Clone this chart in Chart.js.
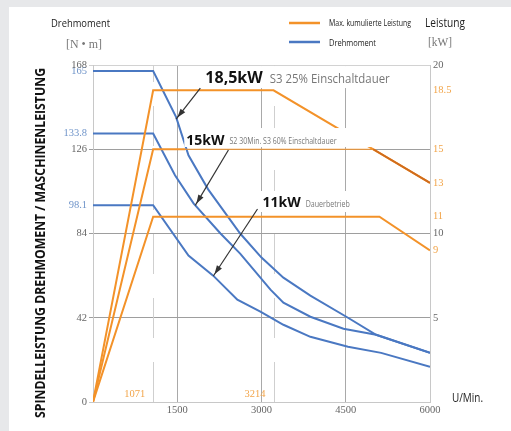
<!DOCTYPE html>
<html>
<head>
<meta charset="utf-8">
<script src="https://cdn.jsdelivr.net/npm/chart.js@4/dist/chart.umd.min.js"></script>
<style>
  html, body { margin: 0; padding: 0; background: #e7e8ea; }
  #panel { position: absolute; left: 9px; top: 7px; width: 502px; height: 424px; background: #fff; }
  #c { position: absolute; left: 0; top: 0; }
</style>
</head>
<body>
<div id="panel"></div>
<canvas id="c" width="511" height="431"></canvas>
<script>
// ---- axis ticks ----
const speedTicks  = [1500, 3000, 4500, 6000];
const torqueTicks = [0, 42, 84, 98.1, 126, 133.8, 165, 168];
const torqueRated = [98.1, 133.8, 165];
const powerTicks  = [5, 9, 10, 11, 13, 15, 18.5, 20];
const powerScale  = [5, 10, 20];
const cornerSpeeds = [1071, 3214];

// ---- power curves (kW) ----
const speedP185 = [0, 1071, 3214, 6000];
const powerP185 = [0, 18.5, 18.5, 13];
const speedP15  = [0, 1071, 1640, 4990, 6000];
const powerP15  = [0, 15, 15, 15, 13];
const speedP11  = [0, 1071, 5100, 6000];
const powerP11  = [0, 11, 11, 9];

// ---- torque curves (N·m) ----
const speedT165  = [0, 1071, 1480, 1700, 2050, 2620, 3000, 3390, 3870, 4540, 5040, 6000];
const torqueT165 = [165, 165, 142, 123, 106, 84, 72, 62, 53, 42, 33.5, 24.5];
const speedT134  = [0, 1071, 1460, 1790, 2270, 2620, 3160, 3390, 3870, 4460, 5040, 6000];
const torqueT134 = [133.8, 133.8, 113, 99, 84, 74, 56, 49.5, 42.5, 36.5, 33.5, 24.5];
const speedT98   = [0, 1071, 1700, 2140, 2570, 2980, 3390, 3870, 4540, 5130, 6000];
const torqueT98  = [98.1, 98.1, 73, 63, 51, 45, 38.5, 32.5, 27.5, 24.5, 17.5];

const ORANGE = '#f39229', ORANGE_DARK = '#d06c1c', BLUE = '#4a78c2';
const BLUE_TXT = '#6f94c9', ORANGE_TXT = '#f2a54a', GRAY_TXT = '#666';
const SERIF = '"Liberation Serif", "DejaVu Serif", serif';
const SANS = '"Open Sans", "Liberation Sans", sans-serif';

const pts = (xs, ys) => xs.map((x, i) => ({ x, y: ys[i] }));

// operating-mode captions, anchored in data space (rpm, N·m)
const captions = [
  { rpm: 2000, nm: 161.5, big: '18,5kW', bigSize: 16, small: 'S3 25% Einschaltdauer', smallSize: 12.5, smallW: 120, gap: 7,
    box: { l: 5, r: 4, t: 12, b: 10 } },
  { rpm: 1661, nm: 130.1, big: '15kW', bigSize: 14, small: 'S2 30Min. S3 60% Einschaltdauer', smallSize: 8.5, smallW: 107, gap: 5,
    box: { l: 2, r: 37, t: 13, b: 6 } },
  { rpm: 3018, nm: 99.2, big: '11kW', bigSize: 14, small: 'Dauerbetrieb', smallSize: 9.5, smallW: 44, gap: 5,
    box: { l: 4, r: 5, t: 12, b: 9 } }
];
const arrows = [
  { from: [1911, 156.5], to: [1480, 141] },
  { from: [2411, 125.6], to: [1821, 98] },
  { from: [2929, 96.2],  to: [2143, 62.8] }
];

const annotations = {
  id: 'annotations',
  beforeDatasetsDraw(chart) {
    const { ctx, chartArea: a, scales: { x } } = chart;
    ctx.save();
    ctx.strokeStyle = '#cfcfcf';
    ctx.lineWidth = 1;
    ctx.setLineDash([40, 24]);
    cornerSpeeds.forEach(s => {
      const px = Math.round(x.getPixelForValue(s)) + 0.5;
      ctx.beginPath();
      ctx.moveTo(px, a.bottom);
      ctx.lineTo(px, a.top);
      ctx.stroke();
    });
    ctx.restore();
  },
  afterDatasetsDraw(chart) {
    const { ctx, scales: { x, y } } = chart;
    ctx.save();
    // caption boxes and text
    captions.forEach(c => {
      const px = x.getPixelForValue(c.rpm), py = y.getPixelForValue(c.nm);
      ctx.font = `bold ${c.bigSize}px ${SANS}`;
      const bw = ctx.measureText(c.big).width;
      const sx = px + bw + c.gap;
      ctx.font = `${c.smallSize}px ${SANS}`;
      const sw = Math.min(ctx.measureText(c.small).width, c.smallW);
      ctx.fillStyle = '#fff';
      ctx.fillRect(px - c.box.l, py - c.box.t, (sx + sw + c.box.r) - (px - c.box.l), c.box.t + c.box.b);
      ctx.textBaseline = 'middle';
      ctx.textAlign = 'left';
      ctx.fillStyle = '#111';
      ctx.font = `bold ${c.bigSize}px ${SANS}`;
      ctx.fillText(c.big, px, py);
      ctx.fillStyle = '#777';
      ctx.font = `${c.smallSize}px ${SANS}`;
      ctx.fillText(c.small, sx, py + 1, c.smallW);
    });
    // pointer arrows
    ctx.strokeStyle = '#333';
    ctx.fillStyle = '#333';
    ctx.lineWidth = 1.2;
    arrows.forEach(ar => {
      const x0 = x.getPixelForValue(ar.from[0]), y0 = y.getPixelForValue(ar.from[1]);
      const x1 = x.getPixelForValue(ar.to[0]), y1 = y.getPixelForValue(ar.to[1]);
      const ang = Math.atan2(y1 - y0, x1 - x0);
      ctx.beginPath();
      ctx.moveTo(x0, y0);
      ctx.lineTo(x1, y1);
      ctx.stroke();
      const hx = x1 - Math.cos(ang) * 2, hy = y1 - Math.sin(ang) * 2;
      ctx.beginPath();
      ctx.moveTo(hx, hy);
      ctx.lineTo(hx - Math.cos(ang) * 9 + Math.sin(ang) * 3, hy - Math.sin(ang) * 9 - Math.cos(ang) * 3);
      ctx.lineTo(hx - Math.cos(ang) * 9 - Math.sin(ang) * 3, hy - Math.sin(ang) * 9 + Math.cos(ang) * 3);
      ctx.closePath();
      ctx.fill();
    });
    // corner speed values beside the dashed lines
    ctx.font = `10.5px ${SERIF}`;
    ctx.fillStyle = ORANGE_TXT;
    ctx.textAlign = 'right';
    ctx.textBaseline = 'middle';
    cornerSpeeds.forEach(s => {
      ctx.fillText(String(s), x.getPixelForValue(s) - 8, y.getPixelForValue(4));
    });
    ctx.restore();
  },
  afterDraw(chart) {
    const { ctx } = chart;
    ctx.save();
    ctx.textBaseline = 'middle';
    ctx.textAlign = 'left';
    // axis headings
    ctx.fillStyle = '#222';
    ctx.font = `11px ${SANS}`;
    ctx.fillText('Drehmoment', 51, 24, 59);
    ctx.font = `13px ${SANS}`;
    ctx.fillText('Leistung', 425, 23, 40);
    ctx.font = `12px ${SANS}`;
    ctx.fillText('U/Min.', 452, 399, 31);
    ctx.fillStyle = '#777';
    ctx.font = `13px ${SERIF}`;
    ctx.fillText('[N \u2022 m]', 66, 45, 36);
    ctx.fillText('[kW]', 428, 43, 24);
    // legend
    ctx.lineWidth = 2.5;
    ctx.strokeStyle = ORANGE;
    ctx.beginPath(); ctx.moveTo(289, 23); ctx.lineTo(320, 23); ctx.stroke();
    ctx.strokeStyle = BLUE;
    ctx.beginPath(); ctx.moveTo(289, 42); ctx.lineTo(320, 42); ctx.stroke();
    ctx.fillStyle = '#222';
    ctx.font = `9px ${SANS}`;
    ctx.fillText('Max. kumulierte Leistung', 329, 23, 82);
    ctx.fillText('Drehmoment', 329, 43, 47);
    // vertical title
    ctx.translate(41, 243);
    ctx.rotate(-Math.PI / 2);
    ctx.textAlign = 'center';
    ctx.fillStyle = '#111';
    ctx.font = `bold 14px ${SANS}`;
    ctx.fillText('SPINDELLEISTUNG DREHMOMENT / MASCHINENLEISTUNG', 0, 0, 350);
    ctx.restore();
  }
};

const lineDs = (data, color, axis, order, extra) => Object.assign({
  data, borderColor: color, borderWidth: 2, pointRadius: 0, fill: false, tension: 0,
  yAxisID: axis, order
}, extra || {});

new Chart(document.getElementById('c'), {
  type: 'line',
  data: {
    datasets: [
      lineDs(pts(speedT98, torqueT98), BLUE, 'y', 2),
      lineDs(pts(speedT134, torqueT134), BLUE, 'y', 2),
      lineDs(pts(speedT165, torqueT165), BLUE, 'y', 2),
      lineDs(pts(speedP11, powerP11), ORANGE, 'y1', 1),
      lineDs(pts(speedP185, powerP185), ORANGE, 'y1', 1),
      lineDs(pts(speedP15, powerP15), ORANGE, 'y1', 0, {
        segment: {
          borderWidth: ctx => ctx.p1DataIndex === 3 ? 1 : undefined,
          borderColor: ctx => ctx.p1DataIndex === 4 ? ORANGE_DARK : undefined
        }
      })
    ]
  },
  options: {
    responsive: false,
    animation: false,
    events: [],
    layout: { padding: { top: 65, left: 0, right: 0, bottom: 0 } },
    plugins: { legend: { display: false }, tooltip: { enabled: false } },
    scales: {
      x: {
        type: 'linear', min: 0, max: 6000,
        afterBuildTicks: s => { s.ticks = speedTicks.map(v => ({ value: v })); },
        afterFit: s => { s.height = 29; },
        grid: {
          color: c => (c.tick && c.tick.value === 6000) ? '#c8c8c8' : '#a9a9a9',
          drawTicks: false
        },
        border: { color: '#c8c8c8' },
        ticks: { font: { family: SERIF, size: 10.5 }, color: GRAY_TXT, padding: 2, autoSkip: false, maxRotation: 0,
                 callback: v => String(v) }
      },
      y: {
        position: 'left', min: 0, max: 168,
        afterBuildTicks: s => { s.ticks = torqueTicks.map(v => ({ value: v })); },
        afterFit: s => { s.width = 93; },
        grid: {
          color: c => {
            const v = c.tick ? c.tick.value : null;
            if (torqueRated.includes(v)) return 'rgba(0,0,0,0)';
            if (v === 168) return '#d2d2d2';
            if (v === 0) return '#c8c8c8';
            return '#9e9e9e';
          },
          tickLength: 4
        },
        border: { color: '#c8c8c8' },
        ticks: {
          font: { family: SERIF, size: 10.5 }, padding: 2, autoSkip: false,
          color: c => torqueRated.includes(c.tick.value) ? BLUE_TXT : GRAY_TXT,
          callback: v => String(v)
        }
      },
      y1: {
        position: 'right', min: 0, max: 20,
        afterBuildTicks: s => { s.ticks = powerTicks.map(v => ({ value: v })); },
        afterFit: s => { s.width = 81; },
        grid: { drawOnChartArea: false, drawTicks: false },
        border: { color: '#c8c8c8' },
        ticks: {
          font: { family: SERIF, size: 10.5 }, padding: 3, autoSkip: false,
          color: c => powerScale.includes(c.tick.value) ? GRAY_TXT : ORANGE_TXT,
          callback: v => String(v)
        }
      }
    }
  },
  plugins: [annotations]
});
</script>
</body>
</html>
